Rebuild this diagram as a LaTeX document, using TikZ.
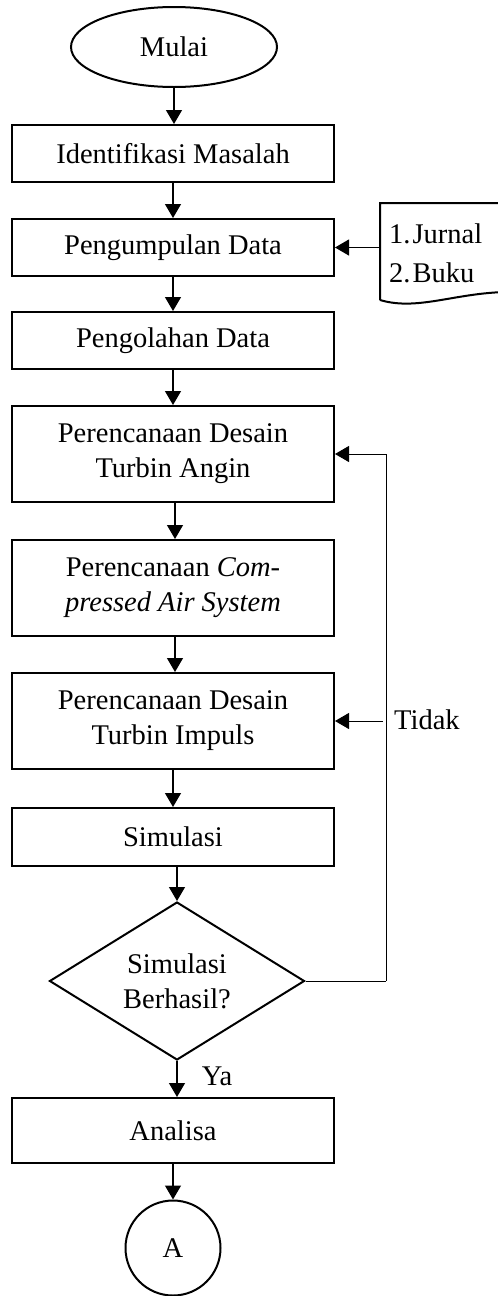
\documentclass[tikz,border=0pt]{standalone}
\usepackage{fontspec}
\setmainfont{Liberation Serif}
\usetikzlibrary{shapes.geometric,arrows.meta}
\tikzset{
  txt/.style={font=\fontsize{28.5}{35}\selectfont},
  procbox/.style={txt,draw,line width=2pt,minimum width=322pt,minimum height=57pt,inner sep=0pt,align=center},
  tallbox/.style={procbox,minimum height=96pt},
  startnode/.style={txt,draw,ellipse,line width=2pt,minimum width=206pt,minimum height=80pt,inner sep=0pt},
  decnode/.style={txt,draw,diamond,aspect=1.6,line width=2pt,minimum width=255pt,minimum height=158pt,inner sep=0pt,align=center},
  connnode/.style={txt,draw,circle,line width=2pt,minimum size=95pt,inner sep=0pt},
  arr/.style={line width=1.2pt,-{Triangle[length=14pt,width=16pt]}},
  fbline/.style={line width=1pt},
}
\begin{document}
\begin{tikzpicture}[x=1pt,y=-1pt]
\clip (0,0) rectangle (498,1296);
\node[startnode] (mulai) at (174,47) {Mulai};
\node[procbox] (ident) at (173,153.5) {Identifikasi Masalah};
\node[procbox] (kumpul) at (173,247.5) {Pengumpulan Data};
\node[procbox] (olah) at (173,340.5) {Pengolahan Data};
\node[tallbox] (angin) at (173,454) {Perencanaan Desain\\Turbin Angin};
\node[tallbox] (cas) at (173,588) {Perencanaan \textit{Com-}\\\textit{pressed Air System}};
\node[tallbox] (impuls) at (173,721) {Perencanaan Desain\\Turbin Impuls};
\node[procbox,minimum height=58pt] (sim) at (173,837) {Simulasi};
\node[decnode] (dec) at (177,981) {Simulasi\\Berhasil?};
\node[procbox,minimum height=65pt] (anal) at (173,1130.5) {Analisa};
\node[connnode] (conA) at (173,1248) {A};
% document shape
\draw[line width=2pt] (380,300) -- (380,203) -- (520,203) -- (520,292)
  .. controls (460,290) and (420,312) .. (380,300);
\node[txt,anchor=base west,inner sep=0pt] (jurnal) at (389,243) {1.\kern2pt Jurnal};
\node[txt,anchor=base west,inner sep=0pt] (buku) at (389,282) {2.\kern2pt Buku};
\coordinate (docl) at (380,247.5);
% connectors
\draw[arr] (mulai.south) -- (mulai.south |- ident.north);
\draw[arr] (ident.south) -- (ident.south |- kumpul.north);
\draw[arr] (docl) -- (kumpul.east);
\draw[arr] (kumpul.south) -- (kumpul.south |- olah.north);
\draw[arr] (olah.south) -- (olah.south |- angin.north);
\draw[arr] ([xshift=2pt]angin.south) -- ([xshift=2pt]angin.south |- cas.north);
\draw[arr] ([xshift=2pt]cas.south) -- ([xshift=2pt]cas.south |- impuls.north);
\draw[arr] (impuls.south) -- (impuls.south |- sim.north);
\draw[arr] (sim.south -| dec.north) -- (dec.north);
\draw[arr] (dec.south) -- (dec.south |- anal.north);
\draw[arr] (anal.south) -- (anal.south |- conA.north);
\coordinate (fb) at (386,981);
\draw[fbline] (dec.east) -- (fb);
\draw[fbline,arr,line width=1pt] (fb) |- (angin.east);
\coordinate (tk) at (383,721);
\draw[fbline,arr,line width=1pt] (tk) -- (impuls.east);
\node[txt,anchor=west,inner sep=0pt] (tidak) at (394,720) {Tidak};
\node[txt,inner sep=0pt] (ya) at (217,1076) {Ya};
\end{tikzpicture}
\end{document}
